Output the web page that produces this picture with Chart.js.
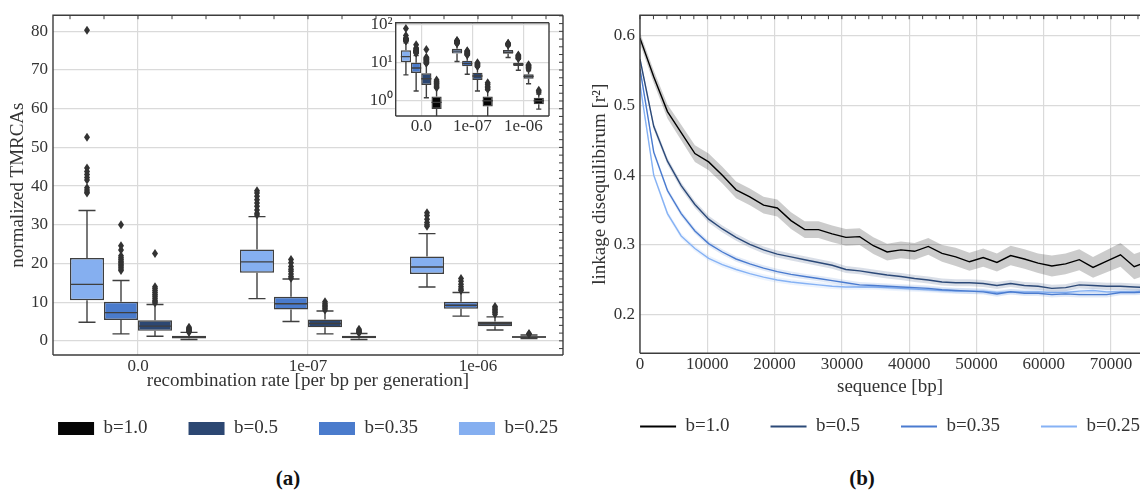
<!DOCTYPE html>
<html>
<head>
<meta charset="utf-8">
<script src="https://cdn.jsdelivr.net/npm/chart.js@4.4.1/dist/chart.umd.min.js"></script>
<style>
  html, body { margin: 0; padding: 0; background: #fff; overflow: hidden; }
  body { width: 1140px; height: 491px; position: relative; }
  canvas { position: absolute; }
  .cap { position: absolute; font: bold 21px 'Liberation Serif', serif; line-height: 24px; color: #111; transform: translateX(-50%); }
</style>
</head>
<body>
<canvas id="boxChart" width="616" height="448" style="left:0;top:0"></canvas>
<canvas id="insetChart" width="210" height="140" style="left:350px;top:0"></canvas>
<canvas id="ldChart" width="630" height="446" style="left:575px;top:0"></canvas>
<div class="cap" style="left:288px;top:466px">(a)</div>
<div class="cap" style="left:862px;top:466px">(b)</div>
<script>
// ---- panel (a): normalized TMRCAs, box plots ----
const groups = ['0.0', '1e-07', '1e-06'];
const hueLabels = ['b=0.25', 'b=0.35', 'b=0.5', 'b=1.0'];
const hueColors = ['#85aff0', '#4a7bcc', '#2c4772', '#050505'];

// one row per hue, one column per recombination rate
const q1      = [[10.5, 17.6, 17.3], [5.4, 8.1, 8.3], [2.6, 3.5, 3.8], [0.6, 0.7, 0.8]];
const med     = [[14.6, 20.4, 19.1], [7.3, 9.6, 9.2], [3.8, 4.5, 4.4], [0.9, 1.0, 1.0]];
const q3      = [[21.4, 23.6, 21.8], [10.1, 11.4, 10.1], [5.3, 5.5, 5.0], [1.3, 1.3, 1.2]];
const whiskLo = [[4.8, 10.9, 13.9], [1.8, 5.0, 6.4], [1.2, 1.8, 2.8], [0.35, 0.35, 0.6]];
const whiskHi = [[33.7, 32.1, 27.7], [15.6, 16.0, 12.5], [9.4, 7.7, 6.2], [2.2, 1.9, 1.5]];
const fliers = [
  [[80.3, 52.6, 44.7, 43.8, 43, 42.2, 41.6, 39.6, 39, 38.5, 38.2],
   [38.8, 38.2, 37.4, 36.5, 35.6, 34.8, 33.8, 33, 32.5],
   [33.1, 32.4, 31.4, 30.6, 30, 29.6]],
  [[30, 24.6, 23.5, 22, 21.5, 21, 20.6, 20.2, 19.8, 19.4, 19, 18.6, 18.2],
   [21, 20.2, 19.2, 18.5, 18, 17.3, 16.6, 16.2],
   [16.1, 15.4, 14.6, 14, 13.4, 13]],
  [[22.6, 14, 13.5, 13, 12.5, 12, 11.5, 11, 10.5, 10.1, 9.8],
   [10.1, 9.6, 9.2, 8.8, 8.4, 8],
   [8.9, 8.5, 8.1, 7.7, 7.3, 6.9]],
  [[3.5, 3.2, 3, 2.8, 2.6, 2.4, 2.2],
   [3, 2.7, 2.4, 2.2, 2],
   [1.9, 1.7]]
];

// ---- panel (b): linkage disequilibrium decay ----
const seqTicks = [0, 10000, 20000, 30000, 40000, 50000, 60000, 70000];
const seqPos = [0, 2040, 4080, 6120, 8160, 10200, 12240, 14280, 16320, 18360, 20400, 22440, 24480, 26520,
  28560, 30600, 32640, 34680, 36720, 38760, 40800, 42840, 44880, 46920, 48960, 51000, 53040, 55080,
  57120, 59160, 61200, 63240, 65280, 67320, 69360, 71400, 73440, 75480];
const ldB10 = [0.596, 0.541, 0.491, 0.461, 0.431, 0.419, 0.400, 0.379, 0.369, 0.357, 0.353, 0.335, 0.322, 0.322,
  0.316, 0.311, 0.312, 0.299, 0.290, 0.293, 0.291, 0.298, 0.288, 0.283, 0.276, 0.282, 0.275, 0.285,
  0.280, 0.274, 0.270, 0.273, 0.279, 0.268, 0.277, 0.286, 0.269, 0.276];
const ldB05 = [0.566, 0.470, 0.420, 0.385, 0.358, 0.337, 0.323, 0.311, 0.301, 0.293, 0.287, 0.283, 0.279, 0.275,
  0.271, 0.265, 0.263, 0.260, 0.257, 0.255, 0.252, 0.250, 0.247, 0.246, 0.246, 0.245, 0.242, 0.245,
  0.242, 0.241, 0.238, 0.239, 0.243, 0.242, 0.241, 0.241, 0.240, 0.239];
const ldB035 = [0.552, 0.433, 0.378, 0.345, 0.320, 0.302, 0.290, 0.280, 0.273, 0.267, 0.262, 0.258, 0.255, 0.252,
  0.249, 0.246, 0.243, 0.242, 0.241, 0.240, 0.239, 0.238, 0.236, 0.235, 0.234, 0.233, 0.230, 0.233,
  0.231, 0.231, 0.229, 0.230, 0.229, 0.229, 0.229, 0.232, 0.232, 0.233];
const ldB025 = [0.530, 0.400, 0.345, 0.313, 0.295, 0.281, 0.272, 0.265, 0.259, 0.254, 0.250, 0.247, 0.245, 0.243,
  0.241, 0.240, 0.240, 0.240, 0.239, 0.238, 0.237, 0.236, 0.235, 0.234, 0.234, 0.234, 0.232, 0.233,
  0.233, 0.233, 0.232, 0.232, 0.234, 0.235, 0.233, 0.233, 0.233, 0.234];
// half width of the shaded confidence band
const ciB10 = [0.008, 0.009, 0.010, 0.011, 0.012, 0.012, 0.012, 0.012, 0.012, 0.012, 0.012, 0.012, 0.012, 0.012,
  0.012, 0.012, 0.012, 0.012, 0.012, 0.012, 0.012, 0.012, 0.012, 0.013, 0.013, 0.013, 0.013, 0.014,
  0.014, 0.014, 0.015, 0.015, 0.015, 0.015, 0.016, 0.017, 0.018, 0.018];
const ciB05 = 0.005;
const ciB035 = 0.004;
const ciB025 = 0.004;

const textColor = '#333';
const gridColor = '#dadada';
const spineColor = '#3c3c3c';
const edgeColor = '#3f3f3f';
Chart.defaults.font.family = "'Liberation Serif', 'Times New Roman', serif";
Chart.defaults.color = textColor;
const tickFont = { size: 17 };
const titleFont = { size: 19 };

// spines plus small inward ticks like the matplotlib frame
const frame = {
  id: 'frame',
  beforeDraw(chart, args, opts) {
    if (!opts.fillBg) return;
    const { ctx, chartArea: a } = chart;
    ctx.save();
    ctx.fillStyle = '#fff';
    ctx.fillRect(a.left, a.top, a.right - a.left, a.bottom - a.top);
    ctx.restore();
  },
  afterDatasetsDraw(chart, args, opts) {
    const { ctx, chartArea: a } = chart;
    ctx.save();
    ctx.strokeStyle = spineColor;
    ctx.lineWidth = 1.4;
    ctx.beginPath();
    ctx.moveTo(a.left, a.bottom); ctx.lineTo(a.left, a.top); ctx.lineTo(a.right, a.top);
    ctx.moveTo(a.left, a.bottom); ctx.lineTo(a.right, a.bottom);
    if (opts.right !== false) { ctx.moveTo(a.right, a.top); ctx.lineTo(a.right, a.bottom); }
    ctx.stroke();
    ctx.lineWidth = 1;
    ctx.beginPath();
    if (opts.topTicks) {
      const xs = chart.scales.x, t = opts.topTicks;
      for (let k = 0; t.from + k * t.step <= t.to + 1e-9; k++) {
        const px = xs.getPixelForValue(t.from + k * t.step);
        if (px < a.left || px > a.right) continue;
        ctx.moveTo(px, a.top); ctx.lineTo(px, a.top + 4);
      }
    }
    if (opts.rightTicks) {
      const ys = chart.scales.y, t = opts.rightTicks;
      for (let k = 0; t.from + k * t.step <= t.to + 1e-9; k++) {
        const py = ys.getPixelForValue(t.from + k * t.step);
        ctx.moveTo(a.right, py); ctx.lineTo(a.right - 4, py);
      }
    }
    ctx.stroke();
    ctx.restore();
  }
};

// whiskers, medians and fliers on top of the floating bars
const boxWhiskers = {
  id: 'boxWhiskers',
  afterDatasetsDraw(chart) {
    const { ctx, chartArea: a } = chart;
    const y = chart.scales.y;
    ctx.save();
    ctx.beginPath();
    ctx.rect(a.left, a.top, a.right - a.left, a.bottom - a.top);
    ctx.clip();
    ctx.strokeStyle = edgeColor;
    ctx.fillStyle = '#333';
    ctx.lineWidth = 1.4;
    hueLabels.forEach((lab, h) => {
      chart.getDatasetMeta(h).data.forEach((bar, i) => {
        const cx = bar.x, half = bar.width / 2;
        ctx.beginPath();
        ctx.moveTo(cx, y.getPixelForValue(q3[h][i])); ctx.lineTo(cx, y.getPixelForValue(whiskHi[h][i]));
        ctx.moveTo(cx, y.getPixelForValue(q1[h][i])); ctx.lineTo(cx, y.getPixelForValue(whiskLo[h][i]));
        [whiskHi, whiskLo].forEach(arr => {
          const py = y.getPixelForValue(arr[h][i]);
          ctx.moveTo(cx - half / 2, py); ctx.lineTo(cx + half / 2, py);
        });
        const pm = y.getPixelForValue(med[h][i]);
        ctx.moveTo(cx - half, pm); ctx.lineTo(cx + half, pm);
        ctx.stroke();
        fliers[h][i].forEach(v => {
          const py = y.getPixelForValue(v);
          ctx.beginPath();
          ctx.moveTo(cx, py - 4.5); ctx.lineTo(cx + 3, py); ctx.lineTo(cx, py + 4.5); ctx.lineTo(cx - 3, py);
          ctx.closePath();
          ctx.fill();
        });
      });
    });
    ctx.restore();
  }
};

function boxDatasets() {
  return hueLabels.map((lab, h) => ({
    label: lab,
    data: groups.map((g, i) => [q1[h][i], q3[h][i]]),
    backgroundColor: hueColors[h],
    borderColor: edgeColor,
    borderWidth: 1.4,
    borderSkipped: false,
    categoryPercentage: 0.8,
    barPercentage: 1.0
  }));
}

function flatLegendItems(chart) {
  const items = Chart.defaults.plugins.legend.labels.generateLabels(chart);
  return items.filter(it => it.text).map(it => Object.assign(it, { lineWidth: 0 }));
}

new Chart(document.getElementById('boxChart'), {
  type: 'bar',
  data: { labels: groups, datasets: boxDatasets() },
  plugins: [boxWhiskers, frame],
  options: {
    responsive: false,
    animation: false,
    events: [],
    layout: { padding: { top: 12, left: 0, right: 0, bottom: 0 } },
    plugins: {
      tooltip: { enabled: false },
      frame: {
        topTicks: { from: -0.4, to: 2.4, step: 0.2 },
        rightTicks: { from: -2, to: 84, step: 2 }
      },
      legend: {
        position: 'bottom',
        reverse: true,
        labels: {
          boxWidth: 36, boxHeight: 13, padding: 41,
          font: { size: 19 }, color: textColor,
          generateLabels: flatLegendItems
        }
      }
    },
    scales: {
      x: {
        offset: true,
        grid: { offset: false, color: gridColor, lineWidth: 1.2, drawTicks: false },
        border: { display: false },
        ticks: { font: tickFont, color: textColor, padding: 1.8 },
        title: { display: true, text: 'recombination rate [per bp per generation]', font: titleFont,
                 color: textColor, padding: { top: 0, bottom: -14.4 } },
        afterFit: s => { s.height = 23; }
      },
      y: {
        min: -3.66, max: 84.17,
        grid: { color: gridColor, lineWidth: 1.2, drawTicks: false },
        border: { display: false },
        ticks: { stepSize: 10, includeBounds: false, font: tickFont, color: textColor, padding: 5 },
        title: { display: true, text: 'normalized TMRCAs', font: titleFont, color: textColor,
                 padding: { top: 6.9, bottom: 0 } },
        afterFit: s => { s.width = 53; }
      },
      yPad: {
        position: 'right',
        grid: { display: false, drawTicks: false },
        border: { display: false },
        ticks: { display: false },
        afterFit: s => { s.width = 53; }
      }
    }
  }
});

const supDigits = ['\u2070', '\u00b9', '\u00b2', '\u00b3'];
new Chart(document.getElementById('insetChart'), {
  type: 'bar',
  data: { labels: groups, datasets: boxDatasets() },
  plugins: [boxWhiskers, frame],
  options: {
    responsive: false,
    animation: false,
    events: [],
    layout: { padding: { top: 22.7, left: 0, right: 11, bottom: 0 } },
    plugins: {
      tooltip: { enabled: false },
      legend: { display: false },
      frame: { fillBg: true }
    },
    scales: {
      x: {
        offset: true,
        grid: { offset: false, color: gridColor, lineWidth: 1.2, drawTicks: false },
        border: { display: false },
        ticks: { font: tickFont, color: textColor, padding: 0.5 },
        afterFit: s => { s.height = 24; }
      },
      y: {
        type: 'logarithmic',
        min: 0.394, max: 115,
        grid: { color: gridColor, lineWidth: 1.2, drawTicks: false },
        border: { display: false },
        afterBuildTicks: s => {
          s.ticks = s.ticks.filter(t => Math.abs(Math.log10(t.value) - Math.round(Math.log10(t.value))) < 1e-9);
        },
        ticks: { font: tickFont, color: textColor, padding: 3,
                 callback: v => '10' + supDigits[Math.round(Math.log10(v))] },
        afterFit: s => { s.width = 45.7; }
      }
    }
  }
});

const ldSeries = [
  { label: 'b=1.0',  vals: ldB10,  ci: ciB10,  color: '#000000', band: 'rgba(0,0,0,0.2)' },
  { label: 'b=0.5',  vals: ldB05,  ci: ciB05,  color: '#2c4a78', band: 'rgba(44,74,120,0.18)' },
  { label: 'b=0.35', vals: ldB035, ci: ciB035, color: '#4a7bd0', band: 'rgba(74,123,208,0.16)' },
  { label: 'b=0.25', vals: ldB025, ci: ciB025, color: '#86b2f5', band: 'rgba(134,178,245,0.16)' }
];
const ciAt = (ci, i) => Array.isArray(ci) ? ci[i] : ci;
const ldDatasets = [];
ldSeries.forEach(s => {
  const pts = sign => seqPos.map((x, i) => ({ x, y: s.vals[i] + sign * ciAt(s.ci, i) }));
  ldDatasets.push({ label: '', data: pts(1), borderWidth: 0, borderColor: 'rgba(0,0,0,0)',
                    pointRadius: 0, fill: false });
  ldDatasets.push({ label: '', data: pts(-1), borderWidth: 0, borderColor: 'rgba(0,0,0,0)',
                    backgroundColor: s.band, pointRadius: 0, fill: '-1' });
  ldDatasets.push({ label: s.label, data: pts(0), borderColor: s.color, backgroundColor: s.color,
                    borderWidth: 1.4, pointRadius: 0, tension: 0, fill: false });
});

new Chart(document.getElementById('ldChart'), {
  type: 'line',
  data: { datasets: ldDatasets },
  plugins: [frame],
  options: {
    responsive: false,
    animation: false,
    events: [],
    layout: { padding: { top: 15, left: 0, right: 0, bottom: 0 } },
    plugins: {
      tooltip: { enabled: false },
      frame: { right: false, topTicks: { from: 0, to: 74000, step: 2000 } },
      legend: {
        position: 'bottom',
        labels: {
          boxWidth: 36, boxHeight: 2, padding: 41,
          font: { size: 19 }, color: textColor,
          generateLabels: flatLegendItems
        }
      }
    },
    scales: {
      x: {
        type: 'linear', min: 0, max: 74300,
        grid: { color: gridColor, lineWidth: 1.2, drawTicks: false },
        border: { display: false },
        afterBuildTicks: s => { s.ticks = seqTicks.map(v => ({ value: v })); },
        ticks: { font: tickFont, color: textColor, padding: 1.2, maxRotation: 0, autoSkip: false,
                 callback: v => String(v) },
        title: { display: true, text: 'sequence [bp]', font: titleFont, color: textColor,
                 padding: { top: 0, bottom: -22.1 } },
        afterFit: s => { s.height = 22.7; }
      },
      y: {
        min: 0.145, max: 0.629,
        grid: { color: gridColor, lineWidth: 1.2, drawTicks: false },
        border: { display: false },
        ticks: { stepSize: 0.1, includeBounds: false, font: tickFont, color: textColor, padding: 5,
                 callback: v => v.toFixed(1) },
        title: { display: true, text: 'linkage disequilibirum [r\u00b2]', font: titleFont, color: textColor,
                 padding: { top: 14, bottom: 0 } },
        afterFit: s => { s.width = 65; }
      },
      yPad: {
        position: 'right',
        grid: { display: false, drawTicks: false },
        border: { display: false },
        ticks: { display: false },
        afterFit: s => { s.width = 65; }
      }
    }
  }
});
</script>
</body>
</html>
